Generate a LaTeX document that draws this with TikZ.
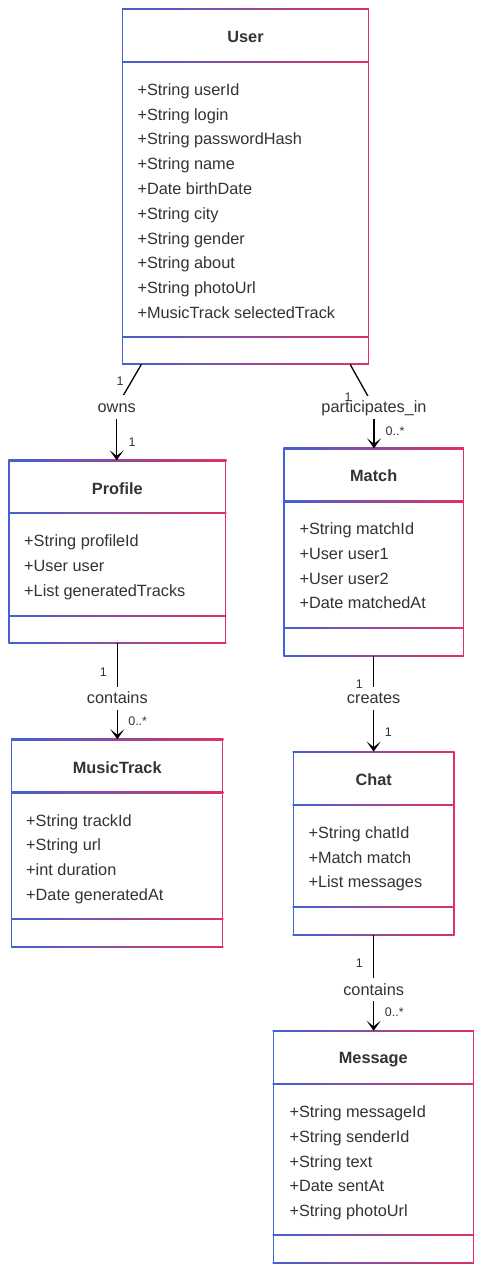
\documentclass[tikz,border=0pt]{standalone}
\usepackage{fontspec}
\setmainfont{Liberation Sans}
\usetikzlibrary{arrows.meta,fit,calc}
\definecolor{cblue}{RGB}{66,98,210}
\definecolor{cpink}{RGB}{222,50,100}
\definecolor{ctext}{RGB}{51,51,51}
% name, x1, y1, x2, y2, divider1, divider2
\newcommand\classbox[7]{%
  \node[fit={(#2,#3) (#4,#5)}, inner sep=0pt] (#1) {};
  \foreach \yy in {#3,#6,#7,#5} {%
    \shade[left color=cblue,right color=cpink] (#2-0.65,\yy-0.65) rectangle (#4+0.65,\yy+0.65);}
  \fill[cblue] (#2-0.65,#3) rectangle (#2+0.65,#5);
  \fill[cpink] (#4-0.65,#3) rectangle (#4+0.65,#5);
}
\begin{document}
\begin{tikzpicture}[x=1pt,y=-1pt,
  ttl/.style={font=\bfseries\fontsize{16.3}{19}\selectfont, text=ctext, inner sep=0pt, text height=11.5pt, text depth=0.5pt, anchor=center},
  attr/.style={font=\fontsize{16.3}{19}\selectfont, text=ctext, inner sep=0pt, text height=11.5pt, text depth=0.5pt, anchor=west},
  lbl/.style={font=\fontsize{16.3}{19}\selectfont, text=ctext, fill=white, inner xsep=2pt, inner ysep=5.5pt, text height=11.5pt, text depth=0.5pt},
  mult/.style={font=\fontsize{12.5}{14}\selectfont, text=ctext, inner sep=0pt, text height=9pt, text depth=0pt, anchor=center},
  conn/.style={draw=black, line width=1.3pt},
  tip/.style={-{Stealth[length=10pt,width=14pt,inset=5.5pt]}}
]
\useasboundingbox[fill=white] (0,0) rectangle (486,1280);

% ---- User
\classbox{user}{122.7}{9}{368.3}{364.3}{62}{336.7}
\node[ttl] (user-t) at (245.5,37) {User};
\foreach \t [count=\i from 0] in {+String userId,+String login,+String passwordHash,+String name,+Date birthDate,+String city,+String gender,+String about,+String photoUrl,+MusicTrack selectedTrack}
  \node[attr] (user-a\i) at (137.3,{89.8+24.8*\i}) {\t};

% ---- Profile
\classbox{profile}{9}{460.5}{225.7}{643}{513}{615.7}
\node[ttl] (profile-t) at (117.3,489) {Profile};
\foreach \t [count=\i from 0] in {+String profileId,+User user,+List generatedTracks}
  \node[attr] (profile-a\i) at (24,{540.7+24.9*\i}) {\t};

% ---- Match
\classbox{match}{284}{448.5}{463.3}{656}{501.5}{628.3}
\node[ttl] (match-t) at (373.7,476) {Match};
\foreach \t [count=\i from 0] in {+String matchId,+User user1,+User user2,+Date matchedAt}
  \node[attr] (match-a\i) at (299.3,{529.3+24.7*\i}) {\t};

% ---- MusicTrack
\classbox{musictrack}{11.7}{739.5}{222.7}{947.3}{792.5}{919}
\node[ttl] (musictrack-t) at (117.2,767.7) {MusicTrack};
\foreach \t [count=\i from 0] in {+String trackId,+String url,+int duration,+Date generatedAt}
  \node[attr] (musictrack-a\i) at (26,{820.7+24.6*\i}) {\t};

% ---- Chat
\classbox{chat}{293.3}{751.8}{454}{935}{805.3}{906.7}
\node[ttl] (chat-t) at (373.7,780) {Chat};
\foreach \t [count=\i from 0] in {+String chatId,+Match match,+List messages}
  \node[attr] (chat-a\i) at (308.3,{833.3+24.3*\i}) {\t};

% ---- Message
\classbox{message}{273.3}{1031}{473.3}{1262.7}{1084}{1235}
\node[ttl] (message-t) at (373.3,1058) {Message};
\foreach \t [count=\i from 0] in {+String messageId,+String senderId,+String text,+Date sentAt,+String photoUrl}
  \node[attr] (message-a\i) at (289.3,{1112+24.8*\i}) {\t};

% ---- Connectors
\draw[conn] ($(user.south west)+(18.8,0)$) -- (116.7,406.7) node[lbl] (owns) {owns};
\draw[conn,tip] (owns.south) -- (owns.south |- profile.north);
\draw[conn] ($(user.south east)+(-18.3,0)$) -- (374,407) node[lbl] (part) {participates\_in};
\draw[conn,tip] (part.south) -- (part.south |- match.north);
\draw[conn,tip] (profile.south) -- node[lbl,pos=0.573] (contains1) {contains} (profile.south |- musictrack.north);
\draw[conn,tip] (match.south) -- node[lbl,pos=0.4415] (creates) {creates} (match.south |- chat.north);
\draw[conn,tip] (chat.south) -- node[lbl,pos=0.573] (contains2) {contains} (chat.south |- message.north);

% ---- Multiplicities
\node[mult] (m1) at (120,381) {1};
\node[mult] (m2) at (132,442) {1};
\node[mult] (m3) at (348,397) {1};
\node[mult] (m4) at (395,431) {0..*};
\node[mult] (m5) at (103.3,672.3) {1};
\node[mult] (m6) at (137.7,721) {0..*};
\node[mult] (m7) at (359.3,684.3) {1};
\node[mult] (m8) at (388.3,732.3) {1};
\node[mult] (m9) at (359.3,963.3) {1};
\node[mult] (m10) at (394.3,1011.7) {0..*};
\end{tikzpicture}
\end{document}
